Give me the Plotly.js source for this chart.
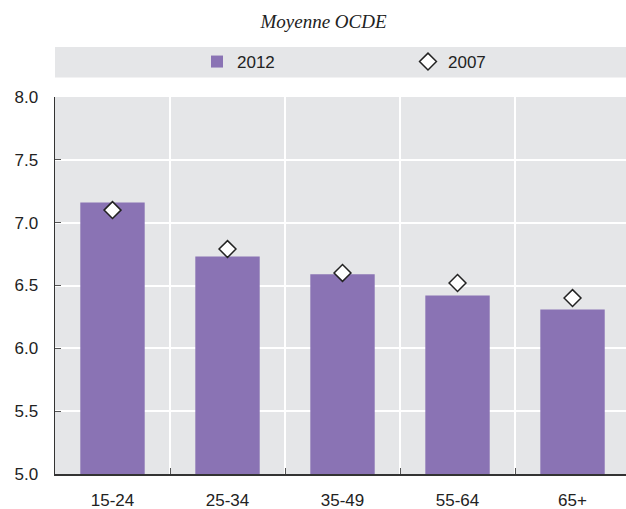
<!DOCTYPE html>
<html>
<head>
<meta charset="utf-8">
<script src="https://cdn.plot.ly/plotly-3.0.1.min.js"></script>
<style>html,body{margin:0;padding:0;background:#fff;}#chart{width:626px;height:509px;}</style>
</head>
<body>
<div id="chart"></div>
<script>
const categories = ["15-24", "25-34", "35-49", "55-64", "65+"];
const values2012 = [7.16, 6.73, 6.59, 6.42, 6.31];
const values2007 = [7.10, 6.79, 6.60, 6.52, 6.40];
const yTicks = [5.0, 5.5, 6.0, 6.5, 7.0, 7.5, 8.0];

const FONT = "'Liberation Sans', Arial, sans-serif";

const traces = [
  {
    type: "bar", name: "2012", x: categories, y: values2012,
    marker: {color: "#8A73B4"}, hoverinfo: "x+y"
  },
  {
    type: "scatter", mode: "markers", name: "2007", x: categories, y: values2007,
    marker: {symbol: "diamond", size: 13, color: "#FFFFFF", line: {color: "#222222", width: 1.5}}
  }
];

const layout = {
  width: 626, height: 509,
  margin: {l: 55, r: 0, t: 97, b: 35},
  paper_bgcolor: "#FFFFFF",
  plot_bgcolor: "#E5E6E8",
  bargap: 0.44,
  font: {family: FONT, size: 17, color: "#222222"},
  title: {
    text: "<i>Moyenne OCDE</i>",
    font: {family: "'Liberation Serif', 'Times New Roman', serif", size: 19, color: "#222222"},
    x: 323.5 / 626, xref: "container", xanchor: "center",
    y: 1 - 21 / 509, yref: "container", yanchor: "middle"
  },
  showlegend: true,
  legend: {
    orientation: "h",
    x: (197 - 55) / 571, xanchor: "left",
    y: 1 + (97 - 62) / 377, yanchor: "middle",
    bgcolor: "rgba(0,0,0,0)",
    entrywidth: 166,
    font: {family: FONT, size: 17, color: "#222222"}
  },
  xaxis: {
    type: "category",
    range: [-0.5, 4.465],
    tickson: "boundaries",
    ticks: "inside", ticklen: 6, tickcolor: "#555555", tickwidth: 1,
    showgrid: true, gridcolor: "#FFFFFF", gridwidth: 2,
    showline: true, linecolor: "#333333", linewidth: 1.5,
    ticklabelstandoff: 10,
    tickfont: {family: FONT, size: 17, color: "#222222"},
    zeroline: false, fixedrange: true
  },
  yaxis: {
    range: [5, 8],
    tickvals: yTicks,
    ticktext: yTicks.map(v => v.toFixed(1)),
    ticks: "inside", ticklen: 6, tickcolor: "#555555", tickwidth: 1,
    showgrid: true, gridcolor: "#FFFFFF", gridwidth: 2,
    showline: true, linecolor: "#333333", linewidth: 1.5,
    ticklabelstandoff: 12,
    tickfont: {family: FONT, size: 17, color: "#222222"},
    zeroline: false, fixedrange: true
  },
  shapes: [{
    type: "rect", xref: "paper", yref: "paper", layer: "below",
    x0: 0, x1: 1.02,
    y0: 1 + (97 - 77.5) / 377, y1: 1 + (97 - 47) / 377,
    fillcolor: "#E5E6E8", line: {width: 0}
  }]
};

Plotly.newPlot("chart", traces, layout, {displayModeBar: false, staticPlot: true});
</script>
</body>
</html>
